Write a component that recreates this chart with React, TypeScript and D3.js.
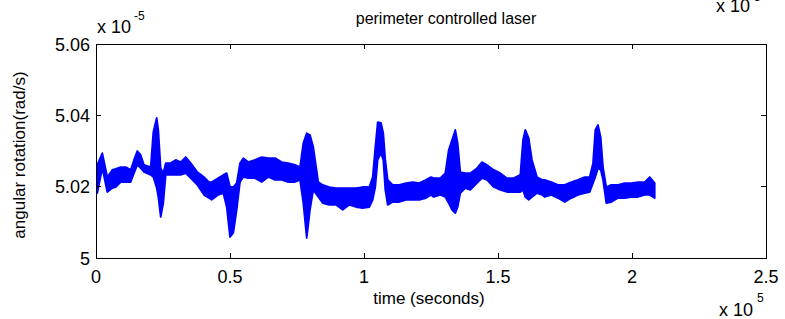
import React from 'react';
import * as d3 from 'd3';

// time in units of 1e5 s
const timeE5 = [
  0.0049, 0.0235, 0.0422, 0.0608, 0.0735, 0.0922, 0.1108, 0.1295, 0.1418, 0.1541,
  0.1668, 0.1791, 0.2041, 0.2138, 0.2265, 0.2325, 0.2414, 0.2511, 0.2601, 0.2787,
  0.2974, 0.3160, 0.3347, 0.3534, 0.3780, 0.4030, 0.4216,
  0.4317, 0.4563, 0.4750, 0.4877, 0.5000, 0.5123, 0.5250, 0.5373, 0.5496, 0.5683,
  0.5933, 0.6183, 0.6429, 0.6679, 0.6929, 0.7175, 0.7425, 0.7612, 0.7735, 0.7862,
  0.7985, 0.8108, 0.8295,
  0.8459, 0.8705, 0.8955, 0.9205, 0.9451, 0.9701, 0.9951, 1.0198, 1.0325, 1.0422,
  1.0511, 1.0634, 1.0720, 1.0795, 1.0884, 1.1071, 1.1317, 1.1567, 1.1817, 1.2063,
  1.2313, 1.2500,
  1.2601, 1.2847, 1.3034, 1.3160, 1.3284, 1.3407, 1.3496, 1.3593, 1.3780, 1.3966,
  1.4216, 1.4403, 1.4590, 1.4840, 1.5086, 1.5336, 1.5586, 1.5832, 1.5933, 1.6019,
  1.6146, 1.6269, 1.6455, 1.6642,
  1.6743, 1.6989, 1.7239, 1.7489, 1.7735, 1.7985, 1.8235, 1.8422, 1.8545, 1.8631,
  1.8731, 1.8832, 1.8918, 1.9041, 1.9228, 1.9478, 1.9728, 1.9974, 2.0224, 2.0474,
  2.0660, 2.0847,
];

// upper envelope of the noisy trace, units of 1e-5 rad/s
const upperE5 = [
  5.0261, 5.0294, 5.0227, 5.0247, 5.0250, 5.0255, 5.0255, 5.0247, 5.0275, 5.0300,
  5.0289, 5.0261, 5.0255, 5.0353, 5.0393, 5.0359, 5.0252, 5.0238, 5.0266, 5.0266,
  5.0275, 5.0269, 5.0283, 5.0266, 5.0241, 5.0227, 5.0213,
  5.0213, 5.0224, 5.0233, 5.0238, 5.0199, 5.0199, 5.0210, 5.0266, 5.0280, 5.0269,
  5.0275, 5.0283, 5.0280, 5.0280, 5.0269, 5.0266, 5.0261, 5.0255, 5.0322, 5.0350,
  5.0345, 5.0311, 5.0213,
  5.0205, 5.0199, 5.0196, 5.0196, 5.0196, 5.0196, 5.0199, 5.0199, 5.0227, 5.0311,
  5.0381, 5.0379, 5.0350, 5.0275, 5.0219, 5.0205, 5.0205, 5.0210, 5.0213, 5.0210,
  5.0219, 5.0227,
  5.0224, 5.0224, 5.0238, 5.0303, 5.0331, 5.0359, 5.0322, 5.0241, 5.0238, 5.0238,
  5.0252, 5.0269, 5.0261, 5.0247, 5.0238, 5.0224, 5.0224, 5.0233, 5.0331, 5.0359,
  5.0336, 5.0275, 5.0227, 5.0219,
  5.0219, 5.0213, 5.0205, 5.0205, 5.0213, 5.0219, 5.0227, 5.0227, 5.0266, 5.0359,
  5.0373, 5.0339, 5.0255, 5.0199, 5.0205, 5.0205, 5.0210, 5.0210, 5.0213, 5.0213,
  5.0227, 5.0210,
];

// lower envelope of the noisy trace, units of 1e-5 rad/s
const lowerE5 = [
  5.0182, 5.0252, 5.0185, 5.0196, 5.0199, 5.0213, 5.0213, 5.0213, 5.0238, 5.0261,
  5.0252, 5.0241, 5.0233, 5.0227, 5.0196, 5.0171, 5.0115, 5.0154, 5.0233, 5.0233,
  5.0233, 5.0233, 5.0238, 5.0224, 5.0205, 5.0177, 5.0168,
  5.0163, 5.0177, 5.0182, 5.0143, 5.0059, 5.0070, 5.0135, 5.0213, 5.0227, 5.0224,
  5.0224, 5.0213, 5.0227, 5.0219, 5.0219, 5.0213, 5.0213, 5.0219, 5.0154, 5.0056,
  5.0135, 5.0191, 5.0171,
  5.0154, 5.0149, 5.0149, 5.0135, 5.0149, 5.0143, 5.0140, 5.0143, 5.0163, 5.0199,
  5.0275, 5.0294, 5.0275, 5.0191, 5.0149, 5.0157, 5.0157, 5.0163, 5.0163, 5.0163,
  5.0168, 5.0177,
  5.0171, 5.0177, 5.0171, 5.0154, 5.0135, 5.0126, 5.0143, 5.0182, 5.0196, 5.0191,
  5.0210, 5.0224, 5.0219, 5.0199, 5.0191, 5.0185, 5.0185, 5.0185, 5.0191, 5.0171,
  5.0163, 5.0171, 5.0182, 5.0177,
  5.0171, 5.0177, 5.0168, 5.0157, 5.0168, 5.0177, 5.0182, 5.0185, 5.0210, 5.0227,
  5.0252, 5.0247, 5.0219, 5.0154, 5.0157, 5.0168, 5.0168, 5.0171, 5.0171, 5.0177,
  5.0177, 5.0168,
];

const xTicks = [0, 0.5, 1, 1.5, 2, 2.5];
const xTickLabels = ['0', '0.5', '1', '1.5', '2', '2.5'];
const yTicks = [5, 5.02, 5.04, 5.06];
const yTickLabels = ['5', '5.02', '5.04', '5.06'];

const titleText = 'perimeter controlled laser';
const xLabelText = 'time (seconds)';
const yLabelText = 'angular rotation(rad/s)';

const W = 785;
const H = 319;
const M = { left: 96, top: 44, right: 19, bottom: 61 };
const FONT = '"Liberation Sans", Arial, sans-serif';

export default function App() {
  const x = d3.scaleLinear().domain([0, 2.5]).range([M.left, W - M.right]);
  const y = d3.scaleLinear().domain([5, 5.06]).range([H - M.bottom, M.top]);
  const rows = timeE5.map((t, i) => ({ t, u: upperE5[i], l: lowerE5[i] }));
  const area = d3
    .area<{ t: number; u: number; l: number }>()
    .x((d) => x(d.t))
    .y0((d) => y(d.l))
    .y1((d) => y(d.u))
    .curve(d3.curveLinear);
  const x0 = M.left;
  const x1 = W - M.right;
  const y0 = H - M.bottom;
  const y1 = M.top;
  const tl = 5;
  const cx = (x0 + x1) / 2;
  return (
    <svg
      width={W}
      height={H}
      style={{ position: 'absolute', left: 0, top: 0, background: '#fff' }}
      fontFamily={FONT}
    >
      <rect x={0} y={0} width={W} height={H} fill="#fff" />
      <path d={area(rows) || ''} fill="#0000ff" stroke="#0000ff" strokeWidth={1.8} strokeLinejoin="round" />
      {/* axes box */}
      <rect x={x0} y={y1} width={x1 - x0} height={y0 - y1} fill="none" stroke="#000" strokeWidth={1} shapeRendering="crispEdges" />
      {xTicks.map((t, i) => (
        <g key={'xt' + i}>
          <line x1={x(t)} x2={x(t)} y1={y0} y2={y0 - tl} stroke="#000" shapeRendering="crispEdges" />
          <line x1={x(t)} x2={x(t)} y1={y1} y2={y1 + tl} stroke="#000" shapeRendering="crispEdges" />
          <text x={x(t)} y={y0 + 25} textAnchor="middle" fontSize={18} fill="#000">
            {xTickLabels[i]}
          </text>
        </g>
      ))}
      {yTicks.map((t, i) => (
        <g key={'yt' + i}>
          <line x1={x0} x2={x0 + tl} y1={y(t)} y2={y(t)} stroke="#000" shapeRendering="crispEdges" />
          <line x1={x1} x2={x1 - tl} y1={y(t)} y2={y(t)} stroke="#000" shapeRendering="crispEdges" />
          <text x={x0 - 6} y={y(t) + 6.5} textAnchor="end" fontSize={18} fill="#000">
            {yTickLabels[i]}
          </text>
        </g>
      ))}
      {/* y multiplier */}
      <text x={x0 + 1} y={33} fontSize={18} fill="#000">
        x 10
      </text>
      <text x={x0 + 38} y={20} fontSize={12} fill="#000">
        -5
      </text>
      {/* x multiplier */}
      <text x={719} y={316} fontSize={18} fill="#000">
        x 10
      </text>
      <text x={757} y={302} fontSize={12} fill="#000">
        5
      </text>
      {/* multiplier of the plot above, cut off at the top edge as in the source */}
      <text x={716} y={12} fontSize={18} fill="#000">
        x 10
      </text>
      <text x={754} y={1} fontSize={12} fill="#000">
        5
      </text>
      <text x={cx + 15} y={24} textAnchor="middle" fontSize={16} fill="#000">
        {titleText}
      </text>
      <text x={cx - 2} y={304} textAnchor="middle" fontSize={17} fill="#000">
        {xLabelText}
      </text>
      <text
        transform={`translate(${25},${155}) rotate(-90)`}
        textAnchor="middle"
        fontSize={17}
        fill="#000"
      >
        {yLabelText}
      </text>
    </svg>
  );
}
